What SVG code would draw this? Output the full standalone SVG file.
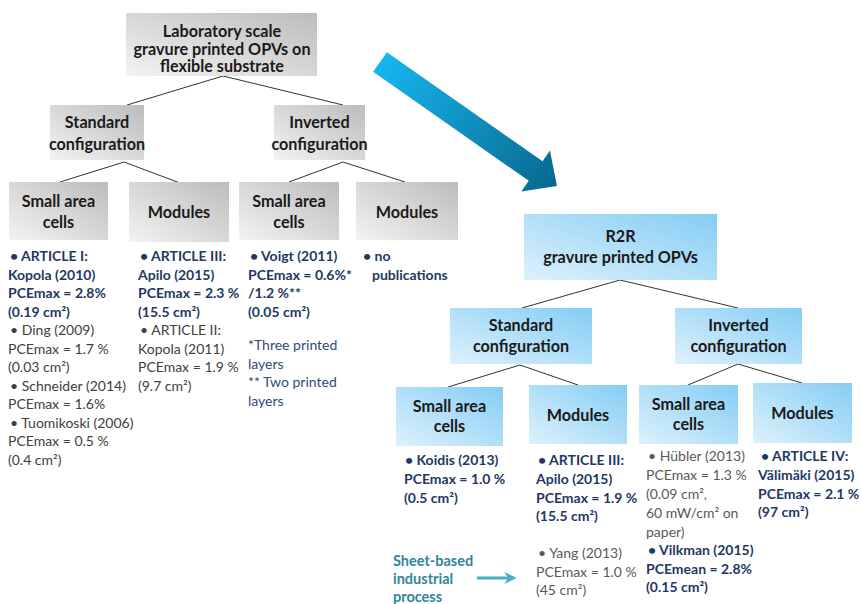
<svg xmlns="http://www.w3.org/2000/svg" width="861" height="604" viewBox="0 0 861 604">
<defs>
<linearGradient id="gGray" x1="0" y1="1" x2="1" y2="0">
<stop offset="0" stop-color="#f3f3f3"/>
<stop offset="1" stop-color="#bcbcbc"/>
</linearGradient>
<linearGradient id="gBlue" x1="0" y1="1" x2="1" y2="0">
<stop offset="0" stop-color="#def1fc"/>
<stop offset="1" stop-color="#84cdf4"/>
</linearGradient>
<linearGradient id="gArrow" x1="0" y1="0" x2="1" y2="0">
<stop offset="0" stop-color="#16b6ef"/>
<stop offset="1" stop-color="#09688f"/>
</linearGradient>
<marker id="smallHead" viewBox="0 0 10 10" refX="8" refY="5" markerWidth="4" markerHeight="4" orient="auto">
<path d="M0,0 L10,5 L0,10 L3,5 Z" fill="#4bacc6"/>
</marker>
<style>
.gray{fill:url(#gGray);}
.blue{fill:url(#gBlue);}
.lbl{font-family:Lato,"Open Sans",sans-serif;font-weight:bold;font-size:16.2px;fill:#1a1a1a;text-anchor:middle;}
.b{font-family:Lato,"Open Sans",sans-serif;font-weight:bold;font-size:14px;fill:#1f3864;}
.n{font-family:Lato,"Open Sans",sans-serif;font-size:14px;fill:#404040;}
.nr{font-family:Lato,"Open Sans",sans-serif;font-size:14px;fill:#595959;}
.fn{font-family:Lato,"Open Sans",sans-serif;font-size:14px;fill:#2f4a7a;}
.sheet{font-family:Lato,"Open Sans",sans-serif;font-weight:bold;font-size:14.5px;fill:#31859c;}
.ln{stroke:#333;stroke-width:1;fill:none;}
</style>
</defs>
<rect width="861" height="604" fill="#ffffff"/>

<g id="connectors">
<line class="ln" x1="223" y1="76" x2="127" y2="105"/>
<line class="ln" x1="223" y1="76" x2="343" y2="105"/>
<line class="ln" x1="124" y1="162" x2="60" y2="182"/>
<line class="ln" x1="124" y1="162" x2="180" y2="183"/>
<line class="ln" x1="343" y1="162" x2="289" y2="182"/>
<line class="ln" x1="343" y1="162" x2="405" y2="182"/>
<line class="ln" x1="620" y1="280" x2="522" y2="308"/>
<line class="ln" x1="620" y1="280" x2="738" y2="308"/>
<line class="ln" x1="520" y1="365" x2="448" y2="387"/>
<line class="ln" x1="520" y1="365" x2="578" y2="385"/>
<line class="ln" x1="738" y1="364" x2="688" y2="385"/>
<line class="ln" x1="738" y1="364" x2="802" y2="383"/>
<g id="bigArrow" transform="translate(380,62) rotate(35)">
<path d="M0,-12 L190,-12 L190,-25 L216,0 L190,25 L190,12 L0,12 Z" fill="url(#gArrow)"/>
</g>
<line x1="477" y1="578" x2="514" y2="578" stroke="#4bacc6" stroke-width="3" marker-end="url(#smallHead)"/>
</g>

<g id="lab">
<rect class="gray" x="126" y="13" width="191" height="63"/>
<text class="lbl" x="222" y="37">Laboratory scale</text>
<text class="lbl" x="222" y="54.5">gravure printed OPVs on</text>
<text class="lbl" x="222" y="72">flexible substrate</text>
</g>
<g id="lab-std">
<rect class="gray" x="50" y="105" width="94" height="55"/>
<text class="lbl" x="97" y="128">Standard</text>
<text class="lbl" x="97" y="150">configuration</text>
</g>
<g id="lab-inv">
<rect class="gray" x="274" y="105" width="91" height="55"/>
<text class="lbl" x="319.5" y="128">Inverted</text>
<text class="lbl" x="319.5" y="150">configuration</text>
</g>
<g id="lab-std-small">
<rect class="gray" x="9" y="182" width="99" height="58"/>
<text class="lbl" x="58.5" y="207">Small area</text>
<text class="lbl" x="58.5" y="228">cells</text>
</g>
<g id="lab-std-mod">
<rect class="gray" x="129" y="182" width="100" height="60"/>
<text class="lbl" x="179" y="218">Modules</text>
</g>
<g id="lab-inv-small">
<rect class="gray" x="239" y="182" width="100" height="58"/>
<text class="lbl" x="289" y="207">Small area</text>
<text class="lbl" x="289" y="228">cells</text>
</g>
<g id="lab-inv-mod">
<rect class="gray" x="356" y="182" width="102" height="58"/>
<text class="lbl" x="407" y="218">Modules</text>
</g>

<g id="lab-std-small-text">
<text class="b" x="10" y="261">•  ARTICLE I:</text>
<text class="b" x="8" y="279.5">Kopola (2010)</text>
<text class="b" x="8" y="298">PCEmax = 2.8%</text>
<text class="b" x="8" y="316.5">(0.19 cm²)</text>
<text class="n" x="10" y="335">•  Ding (2009)</text>
<text class="n" x="8" y="353.5">PCEmax = 1.7 %</text>
<text class="n" x="8" y="372">(0.03 cm²)</text>
<text class="n" x="10" y="390.5">•  Schneider (2014)</text>
<text class="n" x="8" y="409">PCEmax = 1.6%</text>
<text class="n" x="10" y="427.5">•  Tuomikoski (2006)</text>
<text class="n" x="8" y="446">PCEmax = 0.5 %</text>
<text class="n" x="8" y="464.5">(0.4 cm²)</text>
</g>
<g id="lab-std-mod-text">
<text class="b" x="140" y="261">•  ARTICLE III:</text>
<text class="b" x="138" y="279.5">Apilo (2015)</text>
<text class="b" x="138" y="298">PCEmax = 2.3 %</text>
<text class="b" x="138" y="316.5">(15.5 cm²)</text>
<text class="n" x="140" y="335">•  ARTICLE II:</text>
<text class="n" x="138" y="353.5">Kopola (2011)</text>
<text class="n" x="138" y="372">PCEmax = 1.9 %</text>
<text class="n" x="138" y="390.5">(9.7 cm²)</text>
</g>
<g id="lab-inv-small-text">
<text class="b" x="250" y="261">•  Voigt (2011)</text>
<text class="b" x="248" y="279.5">PCEmax = 0.6%*</text>
<text class="b" x="248" y="298">/1.2 %**</text>
<text class="b" x="248" y="316.5">(0.05 cm²)</text>
<text class="fn" x="248" y="350">*Three printed</text>
<text class="fn" x="248" y="368.5">layers</text>
<text class="fn" x="248" y="387">** Two printed</text>
<text class="fn" x="248" y="405.5">layers</text>
</g>
<g id="lab-inv-mod-text">
<text class="b" x="363" y="261">•  no</text>
<text class="b" x="372" y="279.5">publications</text>
</g>

<g id="r2r">
<rect class="blue" x="524" y="214" width="193" height="66"/>
<text class="lbl" x="620.5" y="242">R2R</text>
<text class="lbl" x="620.5" y="263">gravure printed OPVs</text>
</g>
<g id="r2r-std">
<rect class="blue" x="450" y="308" width="142" height="56"/>
<text class="lbl" x="521" y="331">Standard</text>
<text class="lbl" x="521" y="352">configuration</text>
</g>
<g id="r2r-inv">
<rect class="blue" x="675" y="308" width="127" height="56"/>
<text class="lbl" x="738.5" y="331">Inverted</text>
<text class="lbl" x="738.5" y="352">configuration</text>
</g>
<g id="r2r-std-small">
<rect class="blue" x="396" y="387" width="107" height="59"/>
<text class="lbl" x="449.5" y="412">Small area</text>
<text class="lbl" x="449.5" y="432">cells</text>
</g>
<g id="r2r-std-mod">
<rect class="blue" x="529" y="385" width="98" height="59"/>
<text class="lbl" x="578" y="421">Modules</text>
</g>
<g id="r2r-inv-small">
<rect class="blue" x="639" y="385" width="99" height="59"/>
<text class="lbl" x="688.5" y="410">Small area</text>
<text class="lbl" x="688.5" y="430">cells</text>
</g>
<g id="r2r-inv-mod">
<rect class="blue" x="753" y="383" width="99" height="60"/>
<text class="lbl" x="802.5" y="419">Modules</text>
</g>

<g id="r2r-std-small-text">
<text class="b" x="405" y="465">•  Koidis (2013)</text>
<text class="b" x="404" y="484">PCEmax = 1.0 %</text>
<text class="b" x="404" y="502.5">(0.5 cm²)</text>
</g>
<g id="r2r-std-mod-text">
<text class="b" x="538" y="465">•  ARTICLE III:</text>
<text class="b" x="536" y="484">Apilo (2015)</text>
<text class="b" x="536" y="502.5">PCEmax = 1.9 %</text>
<text class="b" x="536" y="521">(15.5 cm²)</text>
<text class="nr" x="538" y="558">•  Yang (2013)</text>
<text class="nr" x="536" y="576.5">PCEmax = 1.0 %</text>
<text class="nr" x="536" y="595">(45 cm²)</text>
</g>
<g id="r2r-inv-small-text">
<text class="nr" x="648" y="461">•  Hübler (2013)</text>
<text class="nr" x="646" y="480">PCEmax = 1.3 %</text>
<text class="nr" x="646" y="499">(0.09 cm²,</text>
<text class="nr" x="646" y="518">60 mW/cm² on</text>
<text class="nr" x="646" y="537">paper)</text>
<text class="b" x="648" y="555">•  Vilkman (2015)</text>
<text class="b" x="646" y="574">PCEmean = 2.8%</text>
<text class="b" x="646" y="592">(0.15 cm²)</text>
</g>
<g id="r2r-inv-mod-text">
<text class="b" x="761" y="461">•  ARTICLE IV:</text>
<text class="b" x="758" y="480">Välimäki (2015)</text>
<text class="b" x="758" y="499">PCEmax = 2.1 %</text>
<text class="b" x="758" y="517">(97 cm²)</text>
</g>
<g id="sheet">
<text class="sheet" x="393" y="566">Sheet-based</text>
<text class="sheet" x="393" y="584">industrial</text>
<text class="sheet" x="393" y="602">process</text>
</g>
</svg>
